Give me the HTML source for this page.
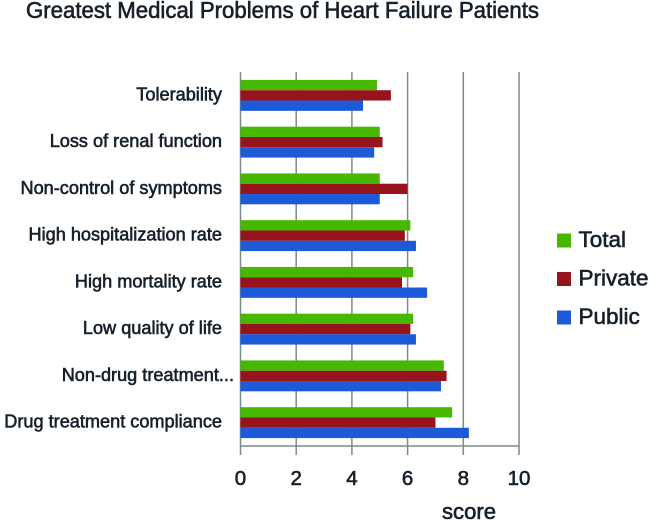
<!DOCTYPE html>
<html><head><meta charset="utf-8">
<style>
html,body{margin:0;padding:0;background:#fff;width:650px;height:521px;overflow:hidden}
svg{display:block}
text{font-family:"Liberation Sans",sans-serif;fill:#16202a;stroke:#16202a;stroke-width:.6}
</style></head>
<body>
<svg id="chart" width="650" height="521" viewBox="0 0 650 521" xmlns="http://www.w3.org/2000/svg">
<text id="chart-title" x="26" y="18" font-size="23">Greatest Medical Problems of Heart Failure Patients</text>
<text id="x-title" x="442" y="519" font-size="22">score</text>
</svg>
<script>
const categories = ["Tolerability","Loss of renal function","Non-control of symptoms","High hospitalization rate","High mortality rate","Low quality of life","Non-drug treatment...","Drug treatment compliance"];
const totalValues = [4.9,5.0,5.0,6.1,6.2,6.2,7.3,7.6];
const privateValues = [5.4,5.1,6.0,5.9,5.8,6.1,7.4,7.0];
const publicValues = [4.4,4.8,5.0,6.3,6.7,6.3,7.2,8.2];
const seriesNames = ["Total","Private","Public"];
const xTicks = [0,2,4,6,8,10];

const svg = document.getElementById('chart');
const NS = 'http://www.w3.org/2000/svg';
const seriesValues = [totalValues, privateValues, publicValues];
const seriesColors = ['#46b800','#98141c','#1c5ad8'];
const plot = {left:240.5, right:519, top:72, bottom:446};
const xScale = v => plot.left + (v - xTicks[0]) / (xTicks[xTicks.length-1] - xTicks[0]) * (plot.right - plot.left);
const band = (plot.bottom - plot.top) / categories.length;
const yCenter = i => plot.top + band * (i + 0.5);
const barH = 10.3;

function make(tag, attrs, text){
  const el = document.createElementNS(NS, tag);
  for (const k in attrs) el.setAttribute(k, attrs[k]);
  if (text !== undefined) el.textContent = text;
  svg.appendChild(el);
  return el;
}
function fit(el, ratio){
  const w = el.getComputedTextLength();
  el.setAttribute('textLength', (w * ratio).toFixed(1));
  el.setAttribute('lengthAdjust', 'spacingAndGlyphs');
  return w * ratio;
}

// gridlines and ticks
xTicks.forEach(t => {
  const line = make('line', {x1:xScale(t), x2:xScale(t), y1:plot.top, y2:plot.bottom + 9, stroke:'#7b8a8a', 'stroke-width':1.5});
  
  
  const lab = make('text', {x:xScale(t), y:485, 'font-size':20.5, 'text-anchor':'middle'}, String(t));
  
  
});
const axisLine = make('line', {x1:plot.left, x2:plot.right, y1:plot.bottom, y2:plot.bottom, stroke:'#7b8a8a', 'stroke-width':1.5});



// bars and category labels
categories.forEach((c, i) => {
  seriesValues.forEach((vals, s) => {
    const r = make('rect', {x:plot.left, y:yCenter(i) + (s - 1.5) * barH, width:xScale(vals[i]) - plot.left, height:barH, fill:seriesColors[s]});
    
    
  });
  const lab = make('text', {x:0, y:yCenter(i) + 5, 'font-size':18.5}, c);
  
  
  const w = fit(lab, 0.98);
  const hang = c.endsWith('...') ? 12 : 0;
  lab.setAttribute('x', (222 + hang - w).toFixed(1));
});

// legend
seriesNames.forEach((n, i) => {
  const y = 247 + i * 38.5;
  const sw = make('rect', {x:557, y:y - 13.5, width:14, height:14, fill:seriesColors[i]});
  
  
  const lab = make('text', {x:578.5, y:y, 'font-size':22.5}, n);
  
  
});

document.getElementById('chart-title').setAttribute('textLength', '513');
document.getElementById('chart-title').setAttribute('lengthAdjust', 'spacingAndGlyphs');
document.getElementById('x-title').setAttribute('textLength', '54');
document.getElementById('x-title').setAttribute('lengthAdjust', 'spacingAndGlyphs');
</script>
</body></html>
